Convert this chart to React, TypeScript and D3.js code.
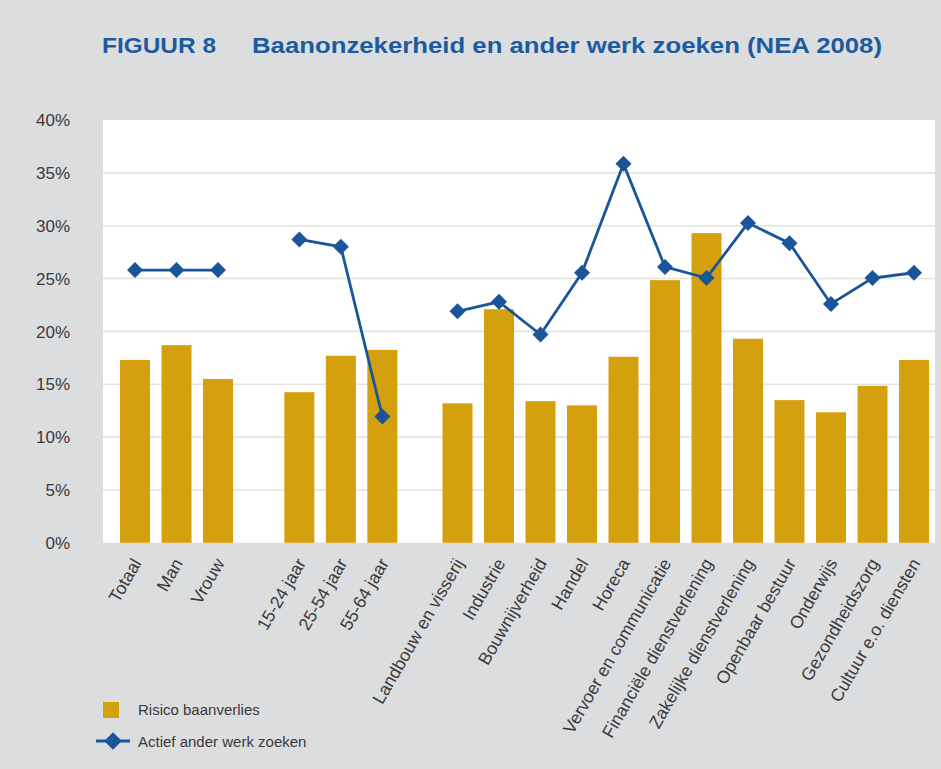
import React from "react";
import * as d3 from "d3";

const groups: string[][] = [
  ["Totaal", "Man", "Vrouw"],
  ["15-24 jaar", "25-54 jaar", "55-64 jaar"],
  [
    "Landbouw en visserij",
    "Industrie",
    "Bouwnijverheid",
    "Handel",
    "Horeca",
    "Vervoer en communicatie",
    "Financiële dienstverlening",
    "Zakelijke dienstverlening",
    "Openbaar bestuur",
    "Onderwijs",
    "Gezondheidszorg",
    "Cultuur e.o. diensten",
  ],
];

const risico: number[] = [
  17.3, 18.7, 15.5, 14.25, 17.7, 18.25, 13.2, 22.1, 13.4, 13.0, 17.6, 24.85,
  29.3, 19.3, 13.5, 12.35, 14.85, 17.3,
];

const actief: number[] = [
  25.8, 25.8, 25.8, 28.7, 28.0, 11.95, 21.9, 22.8, 19.7, 25.55, 35.85, 26.1,
  25.05, 30.25, 28.35, 22.6, 25.05, 25.55,
];

const yTicks: number[] = [0, 5, 10, 15, 20, 25, 30, 35, 40];

const groupGaps: number[] = [1.96, 1.81];

const W = 941;
const H = 769;
const BG = "#dcdddf";
const BAR = "#d4a00e";
const LINE = "#1a5599";
const TEXT = "#3a3a3a";

export default function App() {
  type Item = { name: string; pos: number; group: number; idx: number };
  const items: Item[] = [];
  let p = 0;
  let k = 0;
  groups.forEach((g, gi) => {
    if (gi > 0) p += groupGaps[gi - 1] - 1;
    g.forEach((name) => {
      items.push({ name, pos: p, group: gi, idx: k });
      p += 1;
      k += 1;
    });
  });
  const maxPos = items[items.length - 1].pos;

  const plotLeft = 103;
  const plotRight = 935;
  const plotTop = 120;
  const plotBottom = 542.8;

  const x = d3.scaleLinear().domain([0, maxPos]).range([135, 914]);
  const y = d3.scaleLinear().domain([0, 40]).range([plotBottom, plotTop]);
  const barW = 30;

  const lineGen = d3
    .line<Item>()
    .x((d) => x(d.pos))
    .y((d) => y(actief[d.idx]));

  const diamond = (cx: number, cy: number, r: number) =>
    `M${cx},${cy - r}L${cx + r},${cy}L${cx},${cy + r}L${cx - r},${cy}Z`;

  const font = "'Liberation Sans', Arial, sans-serif";

  return (
    <svg
      width={W}
      height={H}
      style={{ position: "absolute", left: 0, top: 0 }}
      fontFamily={font}
    >
      <rect x={0} y={0} width={W} height={H} fill={BG} />
      <text
        x={102}
        y={53}
        fill="#1d5b9f"
        fontWeight="bold"
        fontSize={22}
        textLength={114}
        lengthAdjust="spacingAndGlyphs"
      >
        FIGUUR 8
      </text>
      <text
        x={252}
        y={53}
        fill="#1d5b9f"
        fontWeight="bold"
        fontSize={22}
        textLength={630}
        lengthAdjust="spacingAndGlyphs"
      >
        Baanonzekerheid en ander werk zoeken (NEA 2008)
      </text>

      <rect
        x={plotLeft}
        y={plotTop}
        width={plotRight - plotLeft}
        height={plotBottom - plotTop}
        fill="#ffffff"
      />
      {yTicks
        .filter((t) => t > 0 && t < 40)
        .map((t) => (
          <line
            key={"g" + t}
            x1={plotLeft}
            x2={plotRight}
            y1={y(t)}
            y2={y(t)}
            stroke="#e2e2e2"
            strokeWidth={1.6}
          />
        ))}
      {yTicks.map((t) => (
        <text
          key={"t" + t}
          x={70}
          y={y(t)}
          dy="0.36em"
          textAnchor="end"
          fontSize={17}
          fill={TEXT}
        >
          {t + "%"}
        </text>
      ))}

      {items.map((d) => (
        <rect
          key={"b" + d.idx}
          x={x(d.pos) - barW / 2}
          y={y(risico[d.idx])}
          width={barW}
          height={y(0) - y(risico[d.idx])}
          fill={BAR}
        />
      ))}

      {groups.map((_, gi) => (
        <path
          key={"l" + gi}
          d={lineGen(items.filter((it) => it.group === gi)) || ""}
          fill="none"
          stroke={LINE}
          strokeWidth={2.8}
        />
      ))}
      {items.map((d) => (
        <path
          key={"m" + d.idx}
          d={diamond(x(d.pos), y(actief[d.idx]), 8)}
          fill={LINE}
        />
      ))}

      {items.map((d) => (
        <text
          key={"x" + d.idx}
          transform={`translate(${x(d.pos) + 7},${563}) rotate(-60)`}
          textAnchor="end"
          fontSize={17.6}
          fill={TEXT}
        >
          {d.name}
        </text>
      ))}

      <rect x={103} y={702} width={16} height={16} fill={BAR} />
      <text x={138} y={715} fontSize={15} fill={TEXT}>
        Risico baanverlies
      </text>
      <line x1={96} x2={130} y1={741} y2={741} stroke={LINE} strokeWidth={2.8} />
      <path d={diamond(113, 741, 8.8)} fill={LINE} />
      <text x={138} y={747} fontSize={15} fill={TEXT}>
        Actief ander werk zoeken
      </text>
    </svg>
  );
}
